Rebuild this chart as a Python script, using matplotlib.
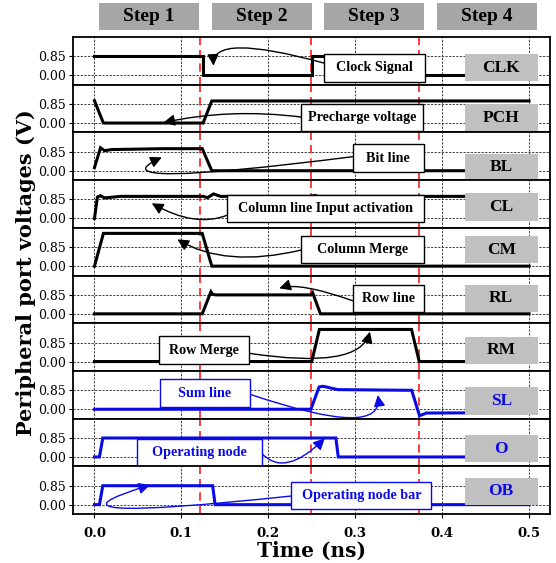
import matplotlib
matplotlib.use('Agg')
import matplotlib.pyplot as plt
import matplotlib.transforms as mtransforms
from matplotlib.patches import Rectangle, FancyArrowPatch
from matplotlib.path import Path

plt.rcParams['font.family'] = 'DejaVu Serif'

# waveforms (time in ns, voltage in V)
clk_t = [0, 0.125, 0.125, 0.25, 0.25, 0.375, 0.375, 0.5]
clk_v = [0.85, 0.85, 0, 0, 0.85, 0.85, 0, 0]
pch_t = [0, 0.0103, 0.125, 0.135, 0.5]
pch_v = [1.0, 0, 0, 0.99, 0.99]
bl_t = [0, 0.007, 0.0115, 0.02, 0.08, 0.124, 0.135, 0.5]
bl_v = [0.14, 1.03, 0.9, 0.95, 0.99, 0.99, 0, 0]
cl_t = [0, 0.0034, 0.007, 0.0116, 0.03, 0.125, 0.13, 0.137, 0.145, 0.25, 0.253, 0.258, 0.5]
cl_v = [0, 0.96, 1.02, 0.92, 0.99, 0.99, 0.93, 1.1, 0.99, 0.99, 1.03, 0.99, 0.99]
cm_t = [0, 0.0103, 0.124, 0.135, 0.5]
cm_v = [0, 1.47, 1.47, 0, 0]
rl_t = [0, 0.124, 0.134, 0.136, 0.14, 0.249, 0.251, 0.26, 0.5]
rl_v = [0, 0, 0.99, 0.87, 0.85, 0.85, 0.95, 0, 0]
rm_t = [0, 0.25, 0.2588, 0.3648, 0.3737, 0.5]
rm_v = [0, 0, 1.44, 1.44, 0, 0]
sl_t = [0, 0.249, 0.2585, 0.263, 0.27, 0.28, 0.365, 0.374, 0.382, 0.5]
sl_v = [0, 0, 1.0, 1.03, 0.97, 0.88, 0.85, -0.29, -0.17, -0.15]
o_t = [0, 0.0057, 0.0096, 0.2778, 0.2805, 0.5]
o_v = [0, 0, 0.85, 0.85, 0, 0]
ob_t = [0, 0.0057, 0.0096, 0.136, 0.1388, 0.5]
ob_v = [0, 0, 0.85, 0.85, 0, 0]

names = ['CLK', 'PCH', 'BL', 'CL', 'CM', 'RL', 'RM', 'SL', 'O', 'OB']
waves = [(clk_t, clk_v), (pch_t, pch_v), (bl_t, bl_v), (cl_t, cl_v), (cm_t, cm_v),
         (rl_t, rl_v), (rm_t, rm_v), (sl_t, sl_v), (o_t, o_v), (ob_t, ob_v)]
blue = '#0a0ae6'
wave_colors = ['k'] * 7 + [blue] * 3
label_y = [0.34, 0.24, 0.15, 0.51, 0.73, 0.69, 0.51, 0.37, 0.37, 0.6]

step_names = ['Step 1', 'Step 2', 'Step 3', 'Step 4']
step_x = [0.0055, 0.135, 0.264, 0.394]
step_lines = [0.121, 0.249, 0.373]

# callouts: text, centre, box width, arrow tail / control / head
callouts = [
    ('Clock Signal', 0.322, 0.33, 0.116, (0.264, 0.55), (0.135, 1.94), (0.137, 0.43)),
    ('Precharge voltage', 0.308, 0.24, 0.141, (0.2376, 0.27), (0.156, 0.67), (0.0793, 0.02)),
    ('Bit line', 0.338, 0.57, 0.082, (0.297, 0.63), (-0.005, -0.87), (0.0775, 0.60)),
    ('Column line Input activation', 0.266, 0.43, 0.226, (0.153, 0.15), (0.116, -0.43), (0.066, 0.68)),
    ('Column Merge', 0.3085, 0.737, 0.142, (0.2376, 0.72), (0.150, -0.085), (0.0954, 1.20)),
    ('Row line', 0.338, 0.674, 0.082, (0.297, 0.59), (0.236, 1.43), (0.2126, 1.145)),
    ('Row Merge', 0.1263, 0.517, 0.104, (0.178, 0.37), (0.305, -0.38), (0.317, 1.34)),
    ('Sum line', 0.127, 0.728, 0.104, (0.179, 0.67), (0.334, -1.38), (0.326, 0.64)),
    ('Operating node', 0.121, 0.189, 0.143, (0.1924, 0.16), (0.219, -0.95), (0.265, 0.835)),
    ('Operating node bar', 0.307, 0.409, 0.161, (0.227, 0.39), (-0.088, -0.92), (0.064, 0.88)),
]

fig, axes = plt.subplots(10, 1, sharex=True, figsize=(5.56, 5.63), dpi=100)
fig.subplots_adjust(left=0.1308, right=0.989, top=0.9343, bottom=0.087, hspace=0)

box_h = 1.22
for i, ax in enumerate(axes):
    t, v = waves[i]
    c = wave_colors[i]
    ax.plot(t, v, color=c, lw=2.2, zorder=3, solid_joinstyle='miter')
    for xl in step_lines:
        ax.axvline(xl, color='#ff1a1a', ls=(0, (5, 3)), lw=1.2, zorder=2)
    ax.set_xlim(-0.025, 0.524)
    ax.set_ylim(-0.42, 1.72)
    ax.set_yticks([0, 0.85])
    ax.set_yticklabels(['0.00', '0.85'], fontsize=9)
    ax.set_xticks([0, 0.1, 0.2, 0.3, 0.4, 0.5])
    ax.grid(True, color='0.2', ls=(0, (2.5, 1.5)), lw=0.65)
    ax.set_axisbelow(True)
    for sp in ax.spines.values():
        sp.set_linewidth(1.3)
    ax.tick_params(axis='y', length=3, width=0.8, pad=2)
    if i < 9:
        ax.tick_params(axis='x', length=0)
    else:
        ax.tick_params(axis='x', length=3, width=0.8, labelsize=9.5, pad=6)
        for lab in ax.get_xticklabels():
            lab.set_fontweight('bold')

    # signal name box on the right
    ax.add_patch(Rectangle((0.426, label_y[i] - box_h / 2), 0.084, box_h,
                           facecolor='#c0c0c0', edgecolor='none', zorder=5, clip_on=False))
    ax.text(0.468, label_y[i], names[i], ha='center', va='center', fontsize=12.5,
            fontweight='bold', family='Liberation Serif', color=c, zorder=6)

    # callout box with arrow
    txt, cx, cy, w, tail, ctrl, head = callouts[i]
    ax.add_patch(Rectangle((cx - w / 2, cy - box_h / 2), w, box_h, facecolor='white',
                           edgecolor=c, lw=1.0, zorder=7, clip_on=False))
    ax.text(cx, cy, txt, ha='center', va='center', fontsize=10.2, fontweight='bold',
            family='Liberation Serif', color=c, zorder=8)
    arrow_path = Path([tail, ctrl, head], [Path.MOVETO, Path.CURVE3, Path.CURVE3])
    ax.add_patch(FancyArrowPatch(path=arrow_path, arrowstyle='-|>', mutation_scale=17,
                                 color=c, lw=1.0, zorder=6, clip_on=False))

axes[-1].set_xlabel('Time (ns)', fontsize=14.5, fontweight='bold', labelpad=1)
fig.text(0.047, 0.515, 'Peripheral port voltages (V)', rotation=90, ha='center', va='center',
         fontsize=15, fontweight='bold')

# step headers above the top panel
trans = mtransforms.blended_transform_factory(axes[0].transData, fig.transFigure)
for name, x0 in zip(step_names, step_x):
    fig.patches.append(Rectangle((x0, 0.9467), 0.115, 0.048, transform=trans,
                                 facecolor='#a6a6a6', edgecolor='none', figure=fig))
    fig.text(x0 + 0.0575, 0.9707, name, transform=trans, ha='center', va='center',
             fontsize=14, fontweight='bold', family='Liberation Serif')

fig.savefig('out.png', dpi=100)
